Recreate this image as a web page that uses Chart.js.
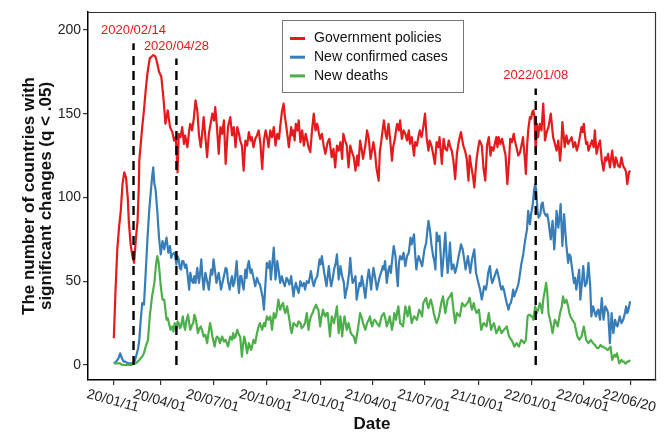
<!DOCTYPE html>
<html><head><meta charset="utf-8">
<script src="https://cdn.jsdelivr.net/npm/chart.js@4.4.1/dist/chart.umd.min.js"></script>
<style>html,body{margin:0;padding:0;background:#fff;}canvas{display:block;}</style>
</head><body>
<canvas id="c" width="671" height="433"></canvas>
<script>
// ---- data ----
const tickLabels = ['20/01/11','20/04/01','20/07/01','20/10/01','21/01/01','21/04/01','21/07/01','21/10/01','22/01/01','22/04/01','22/06/20'];
const yTicks = [0, 50, 100, 150, 200];
const seriesNames = ['Government policies', 'New confirmed cases', 'New deaths'];
const seriesColors = ['#E41A1C', '#377EB8', '#4DAF4A'];
const eventDates = ['2020/02/14', '2020/04/28', '2022/01/08'];
const eventLineTops = [192, 183, 165];
const eventLabelLevels = [200, 190, 173];

// [day since 2020-01-11, value]
const policyPoints = [[0,16],[3,45],[6,69],[9,82],[12,92],[15,108],[18,115],[21,112],[24,100],[26,85],[29,72],[32,65],[35,61],[38,75],[41,86],[43,105],[44,122],[46,130],[49,142],[52,152],[55,164],[58,174],[62,183],[65,184],[68,185],[72,184],[75,180],[78,175],[82,172],[84,165],[86,158],[89,144],[93,152],[97,142],[101,139],[104,134],[107,136],[110,115],[112,138],[115,136],[118,142],[121,132],[123,137],[127,130],[130,140],[132,144],[135,140],[138,147],[141,158],[144,152],[147,137],[150,130],[153,140],[155,148],[158,136],[161,124],[164,138],[166,142],[170,150],[173,146],[175,154],[178,142],[181,126],[184,142],[187,138],[190,146],[193,120],[197,142],[201,148],[204,137],[207,142],[210,130],[213,142],[216,138],[218,134],[221,131],[224,116],[227,134],[230,131],[233,139],[236,134],[238,136],[241,130],[244,135],[247,137],[250,140],[253,132],[256,117],[259,134],[262,140],[265,135],[267,130],[270,140],[273,136],[276,142],[279,131],[282,138],[285,135],[287,142],[290,151],[293,156],[295,149],[297,144],[300,136],[302,130],[306,142],[308,137],[310,140],[312,134],[314,144],[317,140],[319,146],[322,133],[325,140],[328,131],[331,138],[333,135],[336,130],[339,127],[342,140],[345,150],[348,140],[351,144],[354,138],[356,135],[359,138],[362,131],[365,126],[369,133],[372,135],[376,124],[379,129],[382,118],[385,131],[388,128],[391,133],[394,123],[396,138],[399,134],[402,131],[405,118],[408,131],[411,127],[414,124],[417,116],[420,125],[422,119],[425,134],[428,128],[430,123],[434,131],[437,140],[440,135],[443,123],[446,129],[448,133],[451,126],[453,118],[457,110],[459,127],[462,135],[466,146],[469,138],[471,135],[474,144],[477,134],[480,122],[482,130],[485,135],[487,140],[489,144],[492,140],[494,146],[497,135],[500,140],[503,138],[506,134],[509,140],[511,132],[514,136],[518,125],[520,133],[523,131],[526,137],[528,140],[531,136],[534,142],[537,150],[540,135],[543,128],[545,134],[548,131],[551,126],[554,120],[557,133],[560,130],[562,136],[566,120],[569,135],[572,129],[575,128],[578,134],[580,131],[583,128],[586,122],[589,111],[592,126],[595,133],[599,139],[601,135],[603,131],[606,128],[609,123],[612,110],[614,125],[617,118],[620,112],[622,106],[624,115],[626,123],[629,130],[631,134],[635,131],[638,117],[641,110],[644,131],[647,136],[650,125],[652,130],[655,128],[658,133],[660,136],[662,130],[664,136],[667,132],[670,135],[673,130],[676,125],[679,108],[682,122],[684,135],[687,133],[690,138],[692,134],[694,131],[698,125],[701,127],[704,132],[706,136],[709,124],[711,114],[713,130],[715,140],[718,148],[720,147],[722,151],[724,152],[726,148],[728,127],[730,144],[732,136],[735,144],[738,140],[741,156],[744,134],[747,139],[750,142],[752,146],[754,150],[756,143],[758,136],[761,132],[764,128],[767,134],[770,122],[772,130],[774,145],[776,138],[778,130],[781,137],[784,132],[787,134],[790,136],[793,130],[796,133],[799,128],[802,132],[804,136],[807,142],[809,139],[811,144],[813,137],[815,132],[817,133],[819,128],[822,131],[825,134],[828,130],[830,140],[833,126],[836,131],[839,134],[842,122],[845,116],[848,124],[850,122],[853,126],[856,118],[858,123],[860,128],[862,121],[864,118],[866,124],[868,122],[870,119],[873,118],[876,124],[878,120],[880,118],[882,117],[884,115],[886,108],[889,115],[891,116]];

const casesPoints = [[0,1],[4,2],[8,4],[11,7],[14,4],[17,2],[20,2],[24,1],[28,1],[32,1],[35,1],[39,6],[42,10],[44,15],[46,25],[49,37],[52,36],[55,55],[58,75],[61,92],[64,104],[66,112],[68,118],[70,108],[72,105],[75,92],[78,76],[81,66],[84,74],[87,69],[89,73],[91,76],[94,67],[97,71],[99,64],[101,66],[105,67],[108,60],[110,65],[112,63],[114,58],[116,57],[118,62],[120,62],[123,58],[125,60],[127,55],[130,45],[132,55],[135,50],[137,49],[139,53],[141,49],[144,58],[147,49],[149,55],[151,63],[153,52],[155,45],[158,55],[161,50],[164,45],[166,52],[168,57],[170,54],[172,63],[175,55],[177,49],[179,52],[181,55],[183,50],[185,45],[188,50],[190,53],[193,58],[195,57],[197,50],[200,45],[202,50],[204,53],[206,47],[208,49],[210,55],[212,62],[214,50],[216,43],[218,53],[220,53],[222,48],[224,45],[227,57],[229,52],[231,59],[233,62],[236,55],[238,57],[241,52],[244,47],[247,52],[250,49],[252,48],[254,45],[257,40],[259,33],[261,45],[264,61],[267,58],[269,62],[271,51],[274,62],[276,70],[279,51],[282,62],[285,55],[287,49],[290,53],[292,50],[295,47],[298,52],[300,51],[303,48],[306,53],[308,47],[310,41],[312,46],[314,49],[317,45],[319,43],[322,50],[325,47],[328,49],[330,45],[333,50],[336,49],[338,52],[340,56],[343,50],[345,47],[348,51],[351,53],[353,58],[355,63],[357,60],[359,65],[361,60],[363,55],[365,51],[367,47],[369,53],[371,59],[373,52],[375,47],[378,52],[380,57],[383,61],[385,66],[388,51],[391,59],[394,53],[397,49],[399,40],[401,44],[403,47],[406,55],[408,64],[410,55],[412,49],[415,51],[417,53],[419,39],[422,45],[424,49],[426,47],[428,53],[431,47],[434,40],[437,50],[440,57],[442,52],[444,45],[446,52],[448,58],[451,52],[454,45],[457,50],[459,53],[462,56],[464,59],[466,57],[468,62],[471,49],[474,57],[476,59],[478,55],[481,65],[483,71],[486,65],[488,55],[490,47],[492,61],[494,65],[497,63],[500,67],[503,59],[506,65],[509,67],[512,76],[514,72],[516,75],[518,78],[520,66],[522,57],[524,62],[526,65],[529,62],[532,59],[534,64],[536,69],[539,73],[541,80],[543,86],[546,79],[548,72],[551,65],[553,62],[555,57],[557,79],[560,74],[562,77],[564,66],[566,53],[569,65],[572,79],[574,66],[576,55],[578,62],[580,73],[583,57],[586,60],[589,55],[592,59],[595,65],[597,68],[599,72],[602,69],[605,62],[607,57],[609,61],[611,65],[613,60],[615,55],[618,63],[620,66],[622,69],[625,55],[627,52],[629,49],[632,45],[635,39],[637,43],[639,47],[642,45],[644,49],[646,55],[649,59],[651,52],[653,49],[655,51],[657,53],[659,55],[661,57],[663,54],[665,51],[667,47],[669,45],[671,47],[673,45],[676,40],[678,37],[681,33],[683,36],[685,37],[687,40],[689,45],[691,41],[693,43],[695,45],[697,47],[699,50],[701,55],[703,60],[706,65],[708,70],[710,75],[713,81],[715,92],[718,84],[720,90],[723,96],[725,104],[727,108],[729,104],[731,92],[733,88],[736,90],[738,96],[740,97],[742,92],[744,90],[746,89],[748,90],[750,86],[752,80],[754,75],[757,86],[760,69],[762,80],[764,92],[767,82],[769,88],[771,96],[774,71],[777,90],[779,80],[781,71],[784,61],[786,66],[788,65],[791,57],[794,49],[796,52],[798,45],[801,52],[803,57],[805,39],[808,50],[810,59],[813,47],[816,49],[819,61],[822,47],[824,29],[827,35],[830,31],[832,29],[834,32],[836,33],[839,27],[842,40],[845,27],[848,35],[851,33],[853,31],[856,13],[859,31],[862,19],[865,27],[867,24],[869,23],[871,26],[873,29],[876,25],[879,27],[882,31],[884,35],[886,31],[888,33],[891,38]];

const deathsPoints = [[0,1],[5,1],[10,1],[15,0],[20,0],[25,0],[30,0],[35,1],[38,1],[41,2],[44,3],[46,4],[49,5],[52,7],[55,11],[57,13],[59,15],[62,29],[64,35],[66,41],[68,45],[70,49],[72,57],[74,63],[75,65],[77,62],[78,59],[81,47],[84,39],[87,39],[89,33],[91,27],[93,28],[95,25],[98,21],[101,23],[103,20],[105,25],[108,21],[110,26],[112,25],[114,22],[116,23],[119,29],[121,24],[123,21],[125,26],[128,30],[130,25],[132,21],[135,24],[137,25],[139,30],[141,28],[143,24],[145,19],[148,22],[150,23],[153,20],[155,17],[158,18],[161,13],[163,18],[166,25],[168,22],[170,17],[172,14],[174,11],[176,15],[178,17],[181,16],[183,13],[185,15],[187,17],[190,14],[193,15],[195,13],[197,11],[199,14],[201,17],[204,15],[206,19],[208,16],[210,17],[213,21],[216,18],[218,17],[221,5],[223,12],[225,17],[227,14],[230,7],[233,13],[235,11],[237,9],[239,12],[241,15],[244,13],[247,19],[249,22],[252,25],[254,23],[256,21],[259,25],[261,23],[264,29],[267,27],[270,29],[273,21],[276,31],[278,28],[280,29],[282,34],[284,39],[287,33],[289,35],[292,37],[294,33],[296,31],[299,35],[301,31],[303,27],[305,22],[307,19],[310,25],[313,24],[316,23],[319,26],[322,25],[324,22],[327,23],[330,25],[333,31],[336,21],[338,26],[340,29],[343,31],[345,33],[349,36],[351,34],[353,33],[356,23],[358,28],[361,33],[363,30],[365,29],[367,31],[369,31],[371,24],[373,17],[376,29],[378,27],[380,25],[382,29],[385,35],[388,19],[391,29],[394,17],[396,24],[398,29],[400,25],[402,21],[405,25],[407,22],[409,19],[411,18],[414,17],[417,13],[419,17],[421,21],[423,26],[425,31],[428,28],[430,25],[432,23],[434,21],[437,25],[440,27],[442,29],[444,25],[446,23],[448,26],[450,27],[452,26],[454,25],[456,24],[458,23],[460,26],[462,29],[464,30],[466,31],[469,27],[471,23],[474,26],[476,29],[478,25],[480,21],[482,25],[484,31],[487,27],[489,32],[491,35],[494,25],[497,24],[499,23],[501,29],[503,35],[505,32],[507,29],[510,35],[512,30],[514,25],[516,27],[518,29],[521,28],[523,27],[525,30],[527,33],[530,31],[532,29],[534,37],[537,39],[539,40],[541,36],[543,34],[545,37],[547,39],[550,35],[552,31],[555,27],[557,25],[559,27],[561,29],[563,33],[565,37],[568,41],[570,36],[572,31],[574,35],[576,39],[578,40],[580,41],[583,43],[586,33],[589,25],[592,31],[594,30],[597,29],[599,33],[601,37],[603,36],[605,35],[608,36],[610,37],[612,38],[614,40],[616,36],[618,33],[621,37],[623,34],[626,31],[628,32],[630,33],[632,27],[634,21],[636,23],[638,25],[641,24],[643,23],[645,27],[647,31],[649,26],[651,21],[653,23],[656,25],[658,22],[660,19],[663,21],[665,23],[667,21],[669,19],[671,20],[673,21],[676,22],[678,23],[680,20],[682,17],[684,16],[686,15],[689,13],[691,11],[693,12],[695,13],[697,12],[699,11],[701,13],[703,15],[706,14],[708,13],[711,15],[714,29],[716,30],[718,30],[720,29],[722,29],[724,27],[727,35],[730,31],[733,34],[735,37],[737,35],[739,31],[741,39],[744,45],[746,49],[748,43],[750,31],[752,28],[754,25],[757,19],[759,23],[761,27],[764,25],[766,23],[768,27],[770,31],[773,35],[775,41],[778,37],[781,39],[784,35],[786,31],[788,29],[791,27],[793,26],[795,25],[798,20],[800,17],[803,15],[805,16],[807,17],[809,20],[811,23],[813,19],[815,15],[817,14],[819,13],[821,14],[823,15],[825,14],[827,13],[830,12],[832,11],[834,10],[836,10],[838,11],[840,12],[842,11],[845,11],[847,10],[849,10],[851,9],[853,9],[855,10],[857,11],[860,3],[862,5],[864,6],[866,5],[868,7],[870,4],[872,1],[874,2],[876,3],[878,2],[880,2],[882,1],[884,1],[886,2],[888,2],[891,3]];

// ---- helpers ----
const FONT = '"Liberation Sans", Arial, Helvetica, sans-serif';
function dayIndex(y, m, d) { return (Date.UTC(y, m - 1, d) - Date.UTC(2020, 0, 11)) / 86400000; }
function tickDay(s) { const [yy, mm, dd] = s.split('/').map(Number); return dayIndex(2000 + yy, mm, dd); }
function eventDay(s) { const [y, m, d] = s.split('/').map(Number); return dayIndex(y, m, d); }
const toXY = pts => pts.map(p => ({ x: p[0], y: p[1] }));
const lastDay = tickDay(tickLabels[tickLabels.length - 1]);
const xPad = lastDay * 0.05;

const seriesPoints = [policyPoints, casesPoints, deathsPoints];
const datasets = seriesPoints.map((pts, i) => ({
  label: seriesNames[i],
  data: toXY(pts),
  borderColor: seriesColors[i],
  borderWidth: 2.2,
  pointRadius: 0,
  tension: 0,
  fill: false,
  borderJoinStyle: 'round',
  order: 3 - i
}));
eventDates.forEach((d, i) => {
  datasets.push({
    label: 'event' + i,
    data: [{ x: eventDay(d), y: 0 }, { x: eventDay(d), y: eventLineTops[i] }],
    borderColor: '#000',
    borderWidth: 2.4,
    borderDash: [9, 6],
    pointRadius: 0,
    fill: false,
    order: 0
  });
});

const decor = {
  id: 'decor',
  afterDraw(chart) {
    const { ctx, chartArea: a, scales: { x, y } } = chart;
    ctx.save();
    // top and right frame
    ctx.strokeStyle = '#333';
    ctx.lineWidth = 1.2;
    ctx.beginPath();
    ctx.moveTo(a.left, a.top + 0.5);
    ctx.lineTo(a.right - 0.5, a.top + 0.5);
    ctx.lineTo(a.right - 0.5, a.bottom);
    ctx.stroke();
    // x tick labels, rotated
    ctx.fillStyle = '#222';
    ctx.font = '14px ' + FONT;
    ctx.textAlign = 'center';
    ctx.textBaseline = 'middle';
    tickLabels.forEach(l => {
      const px = x.getPixelForValue(tickDay(l));
      ctx.save();
      ctx.translate(px - 1, 401);
      ctx.rotate(15 * Math.PI / 180);
      ctx.fillText(l, 0, 0);
      ctx.restore();
    });
    // event labels
    ctx.fillStyle = '#E41A1C';
    ctx.font = '13px ' + FONT;
    eventDates.forEach((d, i) => {
      ctx.fillText(d, x.getPixelForValue(eventDay(d)), y.getPixelForValue(eventLabelLevels[i]));
    });
    // legend
    const lx = 282, ly = 20, lw = 181, lh = 72;
    ctx.fillStyle = '#fff';
    ctx.fillRect(lx, ly, lw, lh);
    ctx.strokeStyle = '#777';
    ctx.lineWidth = 1;
    ctx.strokeRect(lx + 0.5, ly + 0.5, lw, lh);
    ctx.font = '14px ' + FONT;
    ctx.textAlign = 'left';
    seriesNames.forEach((n, i) => {
      const cy = 38.5 + i * 18.7;
      ctx.strokeStyle = seriesColors[i];
      ctx.lineWidth = 3;
      ctx.beginPath();
      ctx.moveTo(290, cy);
      ctx.lineTo(305, cy);
      ctx.stroke();
      ctx.fillStyle = '#111';
      ctx.fillText(n, 314, cy);
    });
    ctx.restore();
  }
};

new Chart(document.getElementById('c'), {
  type: 'line',
  data: { datasets },
  options: {
    responsive: false,
    animation: false,
    devicePixelRatio: 1,
    layout: { padding: { top: 12, right: 15, left: 0, bottom: 0 } },
    plugins: { legend: { display: false }, tooltip: { enabled: false } },
    scales: {
      x: {
        type: 'linear',
        min: -xPad,
        max: lastDay + xPad,
        afterBuildTicks: s => { s.ticks = tickLabels.map(l => ({ value: tickDay(l) })); },
        afterFit: s => { s.height = 53; },
        ticks: { display: false },
        grid: { drawOnChartArea: false, drawTicks: true, tickLength: 5, color: '#333', lineWidth: 1.2 },
        border: { display: true, color: '#000', width: 1.5 },
        title: { display: true, text: 'Date', color: '#111', font: { family: FONT, size: 17, weight: 'bold', lineHeight: 1 }, padding: { top: 0, bottom: 0.5 } }
      },
      y: {
        type: 'linear',
        min: -8.96,
        max: 210.7,
        afterBuildTicks: s => { s.ticks = yTicks.map(v => ({ value: v })); },
        afterFit: s => { s.width = 88; },
        ticks: { color: '#222', font: { family: FONT, size: 14 }, padding: 2 },
        grid: { drawOnChartArea: false, drawTicks: true, tickLength: 5, color: '#333', lineWidth: 1.2 },
        border: { display: true, color: '#000', width: 1.5 },
        title: { display: true, text: ['The number of countries with', 'significant changes (q < .05)'], color: '#111', font: { family: FONT, size: 17, weight: 'bold', lineHeight: 1 }, padding: { top: 20.5, bottom: 0 } }
      }
    }
  },
  plugins: [decor]
});
</script>
</body></html>
